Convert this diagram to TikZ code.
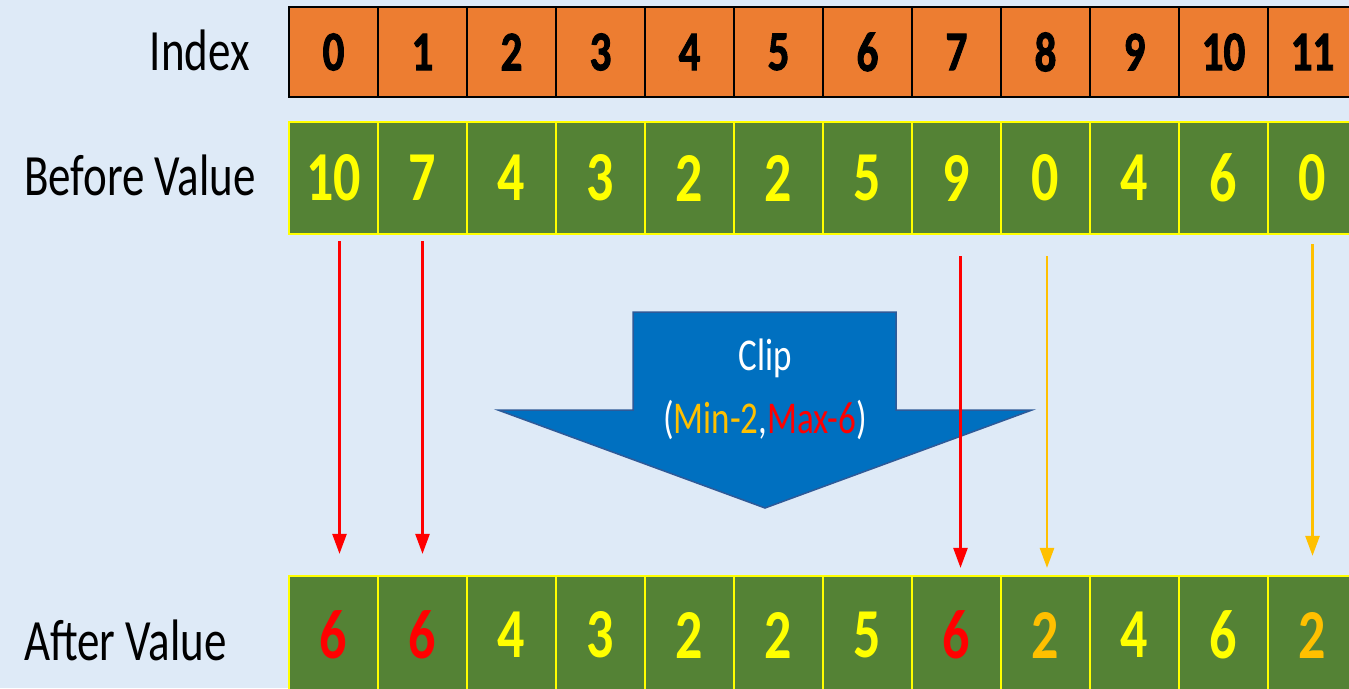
\documentclass[tikz,border=0pt]{standalone}
\usepackage{graphicx}
\usepackage{fontspec}
\setmainfont{Carlito}
\newfontfamily\idxfont[FakeBold=2]{Carlito Bold}
\newfontfamily\valfont{Carlito Bold}
\usetikzlibrary{arrows.meta}
\definecolor{bg}{HTML}{DEEAF7}
\definecolor{idxorange}{HTML}{ED7D31}
\definecolor{cellgreen}{HTML}{548235}
\definecolor{valyellow}{HTML}{FFFF00}
\definecolor{amber}{HTML}{FFC000}
\definecolor{clipblue}{HTML}{0070C0}
\definecolor{clipedge}{HTML}{2E5A98}
\newcommand{\tallt}[1]{\scalebox{1}[1.3]{#1}}
\begin{document}
\begin{tikzpicture}[x=1pt,y=-1pt,
  idxcell/.style={draw=black, line width=2pt, fill=idxorange, minimum width=89pt, minimum height=90pt, inner sep=0pt, font=\fontsize{43}{50}\idxfont},
  valcell/.style={draw=valyellow, line width=2.2pt, fill=cellgreen, minimum width=89pt, minimum height=112pt, inner sep=0pt, text=valyellow, font=\fontsize{54}{60}\valfont},
  aftcell/.style={valcell, minimum height=118pt},
  rowlabel/.style={inner sep=0pt, font=\fontsize{45}{50}\selectfont},
  cliptext/.style={inner sep=0pt, text=white, font=\fontsize{35}{40}\selectfont},
  flowarrow/.style={line width=2.5pt, -{Triangle[width=14pt,length=20pt]}},
  bigarrow/.style={fill=clipblue, draw=clipedge, line width=1.5pt, line join=miter}
]
\useasboundingbox (0,0) rectangle (1349,688);
\fill[bg] (0,0) rectangle (1349,688);

% row labels
\node[rowlabel, anchor=base east] (lidx) at (250,70) {\tallt{Index}};
\node[rowlabel, anchor=base west] (lbefore) at (24,195) {\tallt{Before Value}};
\node[rowlabel, anchor=base west] (lafter) at (24,660) {\tallt{After Value}};

% index row
\foreach \i in {0,...,11}
  \node[idxcell] (i\i) at ({333.5+89*\i},52) {\tallt{\i}};

% before row
\foreach \v [count=\i from 0] in {10,7,4,3,2,2,5,9,0,4,6,0}
  \node[valcell] (b\i) at ({333.5+89*\i},178) {\tallt{\v}};

% after row
\foreach \v/\c [count=\i from 0] in {6/red,6/red,4/valyellow,3/valyellow,2/valyellow,2/valyellow,5/valyellow,6/red,2/amber,4/valyellow,6/valyellow,2/amber}
  \node[aftcell, text=\c] (a\i) at ({333.5+89*\i},635) {\tallt{\v}};

% big clip arrow
\draw[bigarrow] (633,312) -- (896,312) -- (896,410) -- (1032,410) -- (765,508) -- (498,410) -- (633,410) -- cycle;
\node[cliptext] (cliptitle) at (765,358) {\tallt{Clip}};
\node[cliptext] (cliprange) at (765,420) {\tallt{(\textcolor{amber}{Min-2},\textcolor{red}{Max-6})}};

% connectors
\draw[flowarrow, red, shorten <=6pt, shorten >=21pt] ([xshift=6pt]b0.south) -- ([xshift=6pt]a0.north);
\draw[flowarrow, red, shorten <=6pt, shorten >=21pt] (b1.south) -- (a1.north);
\draw[flowarrow, red, shorten <=21pt, shorten >=7pt] ([xshift=4pt]b7.south) -- ([xshift=4pt]a7.north);
\draw[flowarrow, amber, shorten <=21pt, shorten >=7pt] ([xshift=1.5pt]b8.south) -- ([xshift=1.5pt]a8.north);
\draw[flowarrow, amber, shorten <=9pt, shorten >=19pt] (b11.south) -- (a11.north);
\end{tikzpicture}
\end{document}
